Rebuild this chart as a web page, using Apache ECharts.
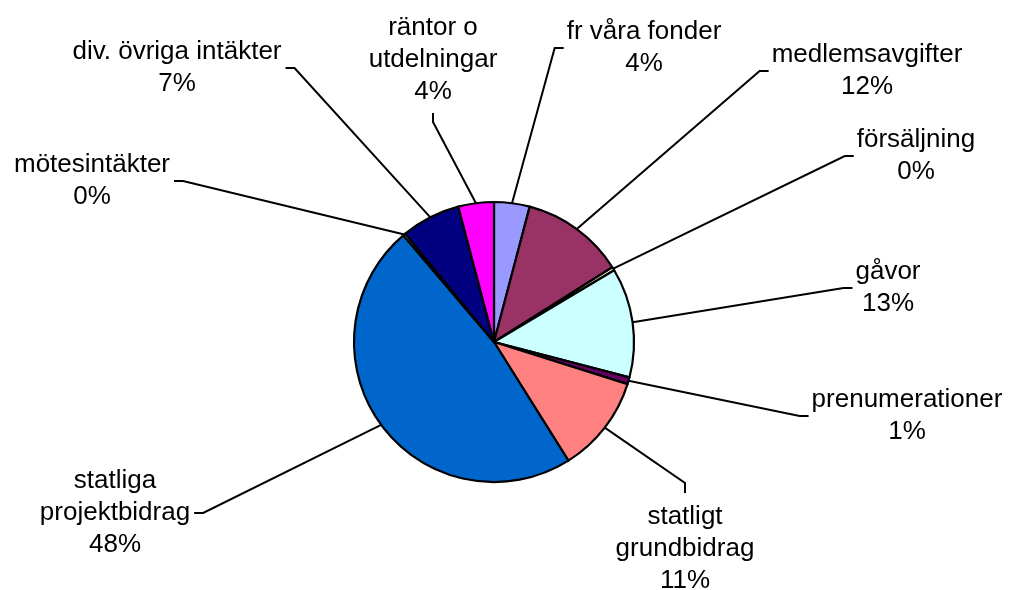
<!DOCTYPE html>
<html>
<head>
<meta charset="utf-8">
<script src="https://cdn.jsdelivr.net/npm/echarts@6/dist/echarts.min.js"></script>
<style>
  html, body { margin: 0; padding: 0; background: #ffffff; }
  #chart { width: 1011px; height: 590px; }
</style>
</head>
<body>
<div id="chart"></div>
<script>
// ---- data ----
const categories = [
  'fr våra fonder',
  'medlemsavgifter',
  'försäljning',
  'gåvor',
  'prenumerationer',
  'statligt\ngrundbidrag',
  'statliga\nprojektbidrag',
  'mötesintäkter',
  'div. övriga intäkter',
  'räntor o\nutdelningar'
];
const values = [4.1, 11.9, 0.4, 12.6, 0.8, 11.2, 47.6, 0.3, 6.8, 4.1];
const colors = ['#9999FF', '#993366', '#FFFFCC', '#CCFFFF', '#660066',
                '#FF8080', '#0066CC', '#CCCCFF', '#000080', '#FF00FF'];

// ---- label layout (text block centre and side where leader enters) ----
const labelAnchors = [
  [644, 48, 'r'],
  [867, 71, 'r'],
  [916, 156, 'r'],
  [888, 288, 'r'],
  [907, 416, 'r'],
  [685, 549, 'b'],
  [115, 513, 'l'],
  [92, 181, 'l'],
  [177, 68, 'l'],
  [433, 60, 't']
];

const CX = 494, CY = 342, R = 140;
const total = values.reduce((a, b) => a + b, 0);
function midAngle(i) {
  let cum = 0;
  for (let k = 0; k < i; k++) cum += values[k];
  return (cum + values[i] / 2) / total * Math.PI * 2;
}

const chart = echarts.init(document.getElementById('chart'), null, { renderer: 'canvas' });
chart.setOption({
  backgroundColor: '#ffffff',
  animation: false,
  series: [{
    type: 'pie',
    center: [CX, CY],
    radius: R,
    startAngle: 90,
    clockwise: true,
    avoidLabelOverlap: false,
    percentPrecision: 0,
    data: categories.map((c, i) => ({ name: c, value: values[i], itemStyle: { color: colors[i] } })),
    itemStyle: { borderColor: '#000000', borderWidth: 2.2 },
    emphasis: { disabled: true },
    label: {
      show: true,
      position: 'outside',
      formatter: p => p.name + '\n' + Math.round(p.percent) + '%',
      fontFamily: 'Liberation Sans, Arial, sans-serif',
      fontSize: 26,
      lineHeight: 32,
      color: '#000000',
      align: 'center'
    },
    labelLine: {
      show: true,
      lineStyle: { color: '#000000', width: 2 }
    },
    labelLayout: function (p) {
      const i = p.dataIndex;
      const L = labelAnchors[i];
      const w = p.labelRect.width, h = p.labelRect.height;
      const a = midAngle(i);
      const edge = [CX + R * Math.sin(a), CY - R * Math.cos(a)];
      let end, elbow;
      if (L[2] === 'r') {
        const left = L[0] - w / 2;
        end = [left - 3, L[1]]; elbow = [left - 12, L[1]];
      } else if (L[2] === 'l') {
        const right = L[0] + w / 2;
        end = [right + 4, L[1]]; elbow = [right + 13, L[1]];
      } else if (L[2] === 't') {
        const bottom = L[1] + h / 2;
        end = [L[0], bottom + 5]; elbow = [L[0], bottom + 14];
      } else {
        const top = L[1] - h / 2;
        end = [L[0], top - 8]; elbow = [L[0], top - 18];
      }
      return {
        x: L[0], y: L[1], align: 'center', verticalAlign: 'middle',
        labelLinePoints: [edge, elbow, end]
      };
    }
  }]
});
</script>
</body>
</html>
